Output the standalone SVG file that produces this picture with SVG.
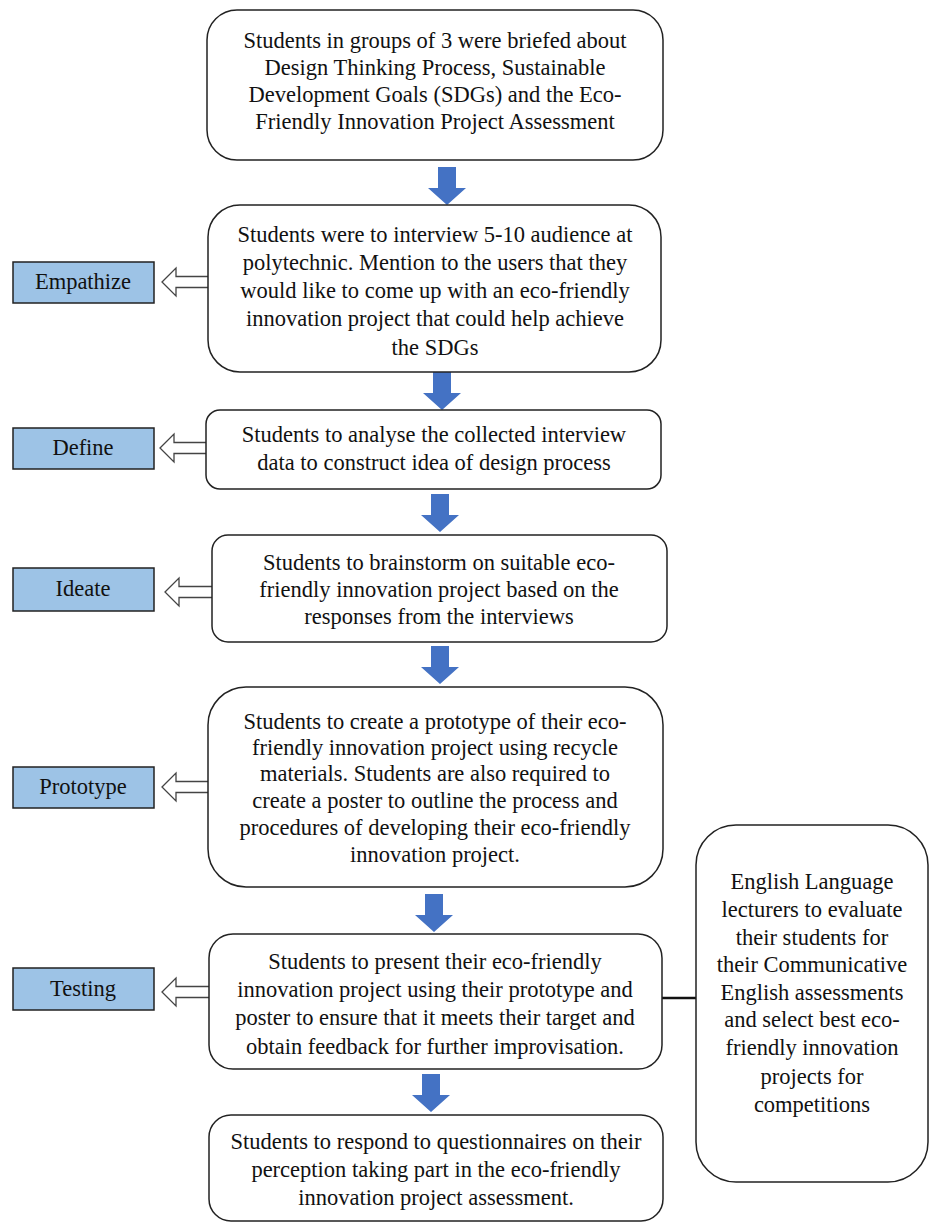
<svg xmlns="http://www.w3.org/2000/svg" width="930" height="1224" viewBox="0 0 930 1224">
<style>
.box{fill:#fff;stroke:#222;stroke-width:1.5}
.lab{fill:#9dc3e6;stroke:#222;stroke-width:1.5}
.t{font-family:"Liberation Serif","Times New Roman",serif;font-size:22.5px;fill:#111;text-anchor:middle}
.b{fill:#4472c4}
.h{fill:#fff;stroke:#444;stroke-width:1.3}
</style>
<defs>
<path id="down" d="M-9,0 H9 V21 H19 L0,38 L-19,21 H-9 Z"/>
<path id="left" d="M0,0 L14,-14 V-5.5 H48 V5.5 H14 V14 Z"/>
</defs>
<g id="connectors">
<use href="#down" class="b" x="447" y="167"/>
<use href="#down" class="b" x="442" y="372"/>
<use href="#down" class="b" x="440" y="494"/>
<use href="#down" class="b" x="440" y="646"/>
<use href="#down" class="b" x="434" y="894"/>
<use href="#down" class="b" x="431" y="1074"/>
<use href="#left" class="h" x="162" y="282"/>
<use href="#left" class="h" x="160" y="448"/>
<use href="#left" class="h" x="165" y="592"/>
<use href="#left" class="h" x="162" y="787"/>
<use href="#left" class="h" x="162" y="992"/>
<line x1="662" y1="998" x2="696" y2="998" stroke="#111" stroke-width="2.5"/>
</g>
<g id="n1"><rect class="box" x="207" y="10" width="456" height="150" rx="30"/>
<text class="t" x="435" y="48">Students in groups of 3 were briefed about</text>
<text class="t" x="435" y="75">Design Thinking Process, Sustainable</text>
<text class="t" x="435" y="102">Development Goals (SDGs) and the Eco-</text>
<text class="t" x="435" y="129">Friendly Innovation Project Assessment</text></g>
<g id="n2"><rect class="box" x="208" y="205" width="453" height="167" rx="32"/>
<text class="t" x="435" y="242">Students were to interview 5-10 audience at</text>
<text class="t" x="435" y="270">polytechnic. Mention to the users that they</text>
<text class="t" x="435" y="298">would like to come up with an eco-friendly</text>
<text class="t" x="435" y="326">innovation project that could help achieve</text>
<text class="t" x="435" y="355">the SDGs</text></g>
<g id="n3"><rect class="box" x="206" y="410" width="455" height="79" rx="14"/>
<text class="t" x="434" y="442">Students to analyse the collected interview</text>
<text class="t" x="434" y="470">data to construct idea of design process</text></g>
<g id="n4"><rect class="box" x="212" y="535" width="455" height="107" rx="16"/>
<text class="t" x="439" y="570">Students to brainstorm on suitable eco-</text>
<text class="t" x="439" y="597">friendly innovation project based on the</text>
<text class="t" x="439" y="624">responses from the interviews</text></g>
<g id="n5"><rect class="box" x="208" y="687" width="455" height="200" rx="38"/>
<text class="t" x="435" y="729">Students to create a prototype of their eco-</text>
<text class="t" x="435" y="755">friendly innovation project using recycle</text>
<text class="t" x="435" y="781">materials. Students are also required to</text>
<text class="t" x="435" y="808">create a poster to outline the process and</text>
<text class="t" x="435" y="835">procedures of developing their eco-friendly</text>
<text class="t" x="435" y="862">innovation project.</text></g>
<g id="n6"><rect class="box" x="209" y="934" width="453" height="135" rx="24"/>
<text class="t" x="435" y="969">Students to present their eco-friendly</text>
<text class="t" x="435" y="997">innovation project using their prototype and</text>
<text class="t" x="435" y="1025">poster to ensure that it meets their target and</text>
<text class="t" x="435" y="1054">obtain feedback for further improvisation.</text></g>
<g id="n7"><rect class="box" x="209" y="1115" width="454" height="106" rx="22"/>
<text class="t" x="436" y="1149">Students to respond to questionnaires on their</text>
<text class="t" x="436" y="1177">perception taking part in the eco-friendly</text>
<text class="t" x="436" y="1205">innovation project assessment.</text></g>
<g id="n8"><rect class="box" x="696" y="825" width="232" height="357" rx="40"/>
<text class="t" x="812" y="889">English Language</text>
<text class="t" x="812" y="917">lecturers to evaluate</text>
<text class="t" x="812" y="945">their students for</text>
<text class="t" x="812" y="972">their Communicative</text>
<text class="t" x="812" y="1000">English assessments</text>
<text class="t" x="812" y="1027">and select best eco-</text>
<text class="t" x="812" y="1055">friendly innovation</text>
<text class="t" x="812" y="1084">projects for</text>
<text class="t" x="812" y="1112">competitions</text></g>
<g id="l1"><rect class="lab" x="13" y="262" width="141" height="41"/><text class="t" x="83" y="289">Empathize</text></g>
<g id="l2"><rect class="lab" x="13" y="428" width="141" height="41"/><text class="t" x="83" y="455">Define</text></g>
<g id="l3"><rect class="lab" x="13" y="568" width="141" height="43"/><text class="t" x="83" y="596">Ideate</text></g>
<g id="l4"><rect class="lab" x="13" y="767" width="141" height="41"/><text class="t" x="83" y="794">Prototype</text></g>
<g id="l5"><rect class="lab" x="13" y="968" width="141" height="42"/><text class="t" x="83" y="996">Testing</text></g>
</svg>
